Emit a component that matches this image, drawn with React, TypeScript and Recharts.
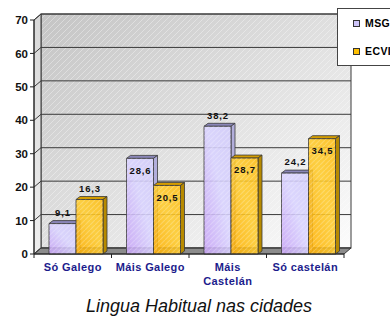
import { BarChart, Bar, XAxis, YAxis, CartesianGrid, Legend, LabelList } from "recharts"

const categories = ["Só Galego", "Máis Galego", "Máis\nCastelán", "Só castelán"]
const msgValues = [9.1, 28.6, 38.2, 24.2]
const ecviValues = [16.3, 20.5, 28.7, 34.5]
const yTicks = [0, 10, 20, 30, 40, 50, 60, 70]
const seriesNames = ["MSG", "ECVI"]
const title = "Lingua Habitual nas cidades"
// Excel put some of the value labels inside the top of the bar
const msgLabelInside = [false, true, false, false]
const ecviLabelInside = [false, true, true, true]

const data = categories.map((name, i) => ({ name, MSG: msgValues[i], ECVI: ecviValues[i] }))

const W = 390
const H = 316
const PLOT = { left: 34, top: 20, right: 344, bottom: 254 }
const WALL = { dx: 7, dy: 6 }
const BAR = { dx: 4, dy: 3, shift: 3 }
const FONT = "'Liberation Sans', Arial, sans-serif"
const swatch: Record<string, string> = { MSG: "#cdc4f8", ECVI: "#ffc000" }

function bar3d(front: string, top: string, side: string) {
  return (props: any) => {
    const { x, y, width, height } = props
    if (!width || height == null) return <g />
    const l = x + BAR.shift
    const r = l + width
    const b = y + height
    const { dx, dy } = BAR
    return (
      <g stroke="#3a3a3a" strokeWidth={0.8} strokeLinejoin="round">
        <polygon points={`${l},${y} ${l + dx},${y - dy} ${r + dx},${y - dy} ${r},${y}`} fill={top} />
        <polygon points={`${r},${y} ${r + dx},${y - dy} ${r + dx},${b - dy} ${r},${b}`} fill={side} />
        <rect x={l} y={y} width={width} height={height} fill={front} fillOpacity={0.88} />
        <rect x={l} y={y} width={width} height={height} fill="url(#barHatch)" stroke="none" />
      </g>
    )
  }
}

function valueLabel(inside: boolean[]) {
  return (props: any) => {
    const { x, y, width, value, index } = props
    const cx = x + BAR.shift + width / 2 + 0.5
    const cy = inside[index] ? y + 12 : y - 11
    return (
      <text x={cx} y={cy} dy="0.35em" textAnchor="middle" fontFamily={FONT} fontWeight="bold"
        fontSize={9.5} letterSpacing={0.9} fill="#111">
        {String(value).replace(".", ",")}
      </text>
    )
  }
}

function CategoryTick(props: any) {
  const { x, payload, index } = props
  const band = (PLOT.right - PLOT.left) / categories.length
  const lines = String(payload.value).split("\n")
  return (
    <g>
      <line x1={x - band / 2} x2={x - band / 2} y1={PLOT.bottom} y2={PLOT.bottom + 4} stroke="#222" />
      {index === categories.length - 1 && (
        <line x1={x + band / 2} x2={x + band / 2} y1={PLOT.bottom} y2={PLOT.bottom + 4} stroke="#222" />
      )}
      <text x={x} y={PLOT.bottom + 17} textAnchor="middle" fill="#1c1c8c" fontFamily={FONT}
        fontWeight="bold" fontSize={11} letterSpacing={0.4}>
        {lines.map((t, i) => (
          <tspan key={i} x={x} dy={i === 0 ? 0 : 14}>{t}</tspan>
        ))}
      </text>
    </g>
  )
}

function ValueTick(props: any) {
  const { x, y, payload } = props
  return (
    <text x={x} y={y} dy="0.36em" textAnchor="end" fill="#111" fontFamily={FONT} fontWeight="bold" fontSize={11.5}>
      {payload.value}
    </text>
  )
}

// gridline runs up the left wall then across the back wall
const gridLine = (p: any) => {
  const { x1, y1, x2 } = p
  return (
    <polyline key={`g${y1}`} fill="none" stroke="#3a3a3a" strokeWidth={1}
      points={`${x1},${y1} ${x1 + WALL.dx},${y1 - WALL.dy} ${x2 + WALL.dx},${y1 - WALL.dy}`} />
  )
}

function LegendBox(props: any) {
  const items = [...(props.payload ?? [])].sort(
    (a: any, b: any) => seriesNames.indexOf(a.value) - seriesNames.indexOf(b.value)
  )
  return (
    <div style={{ width: 70, height: 56, border: "1px solid #444", background: "#fff" }}>
      {items.map((it: any) => (
        <div key={it.value} style={{ height: 28, display: "flex", alignItems: "center", paddingLeft: 15 }}>
          <span style={{ width: 5, height: 5, border: "1px solid #333", background: swatch[it.value], marginRight: 5 }} />
          <span style={{ font: `bold 10.5px ${FONT}`, letterSpacing: 0.4, color: "#000" }}>{it.value}</span>
        </div>
      ))}
    </div>
  )
}

function Walls() {
  const bl = PLOT.left + WALL.dx
  const bt = PLOT.top - WALL.dy
  const br = PLOT.right + WALL.dx
  const bb = PLOT.bottom - WALL.dy
  return (
    <svg width={W} height={H} style={{ position: "absolute", left: 0, top: 0 }}>
      <defs>
        <linearGradient id="wallGrad" x1="0" y1="0" x2="1" y2="1">
          <stop offset="0" stopColor="#c4c4c4" />
          <stop offset="0.5" stopColor="#e0e0e0" />
          <stop offset="1" stopColor="#fcfcfc" />
        </linearGradient>
        <linearGradient id="leftGrad" x1="0" y1="0" x2="0" y2="1">
          <stop offset="0" stopColor="#d8d8d8" />
          <stop offset="1" stopColor="#eeeeee" />
        </linearGradient>
        <pattern id="wallHatch" width="6" height="6" patternUnits="userSpaceOnUse">
          <path d="M0,6 L6,0" stroke="#fff" strokeOpacity={0.35} strokeWidth={1} />
        </pattern>
        <pattern id="barHatch" width="5" height="5" patternUnits="userSpaceOnUse">
          <path d="M0,5 L5,0" stroke="#fff" strokeOpacity={0.22} strokeWidth={1.2} />
        </pattern>
        <linearGradient id="msgFront" x1="0" y1="1" x2="1" y2="0">
          <stop offset="0" stopColor="#c7a2f6" />
          <stop offset="0.55" stopColor="#d8d2ff" />
          <stop offset="1" stopColor="#d2ccfb" />
        </linearGradient>
        <linearGradient id="ecviFront" x1="0" y1="1" x2="1" y2="0">
          <stop offset="0" stopColor="#ffae00" />
          <stop offset="0.55" stopColor="#ffcb2a" />
          <stop offset="1" stopColor="#ffbe12" />
        </linearGradient>
      </defs>
      <rect x={bl} y={bt} width={br - bl} height={bb - bt} fill="url(#wallGrad)" />
      <rect x={bl} y={bt} width={br - bl} height={bb - bt} fill="url(#wallHatch)" stroke="#3a3a3a" />
      <polygon points={`${PLOT.left},${PLOT.top} ${bl},${bt} ${bl},${bb} ${PLOT.left},${PLOT.bottom}`}
        fill="url(#leftGrad)" stroke="#3a3a3a" />
      <polygon points={`${PLOT.left},${PLOT.bottom} ${bl},${bb} ${br},${bb} ${PLOT.right},${PLOT.bottom}`}
        fill="#8c8c8c" stroke="#3a3a3a" />
      <text x={199} y={312} textAnchor="middle" fontFamily={FONT} fontStyle="italic" fontSize={18} fill="#111">
        {title}
      </text>
    </svg>
  )
}

export default function App() {
  return (
    <div style={{ position: "absolute", left: 0, top: 0, width: W, height: H, overflow: "hidden", background: "#fff" }}>
      <Walls />
      <div style={{ position: "absolute", left: 0, top: 0 }}>
        <BarChart width={W} height={H} data={data} barGap={0}
          margin={{ top: PLOT.top, right: W - PLOT.right, bottom: 0, left: 0 }}>
          <CartesianGrid vertical={false} horizontal={gridLine} />
          <XAxis dataKey="name" height={H - PLOT.bottom} interval={0} tickLine={false}
            axisLine={{ stroke: "#222" }} tick={(p: any) => <CategoryTick {...p} />} />
          <YAxis width={PLOT.left} domain={[0, 70]} ticks={yTicks} tickSize={4} tickMargin={2}
            axisLine={{ stroke: "#222" }} tickLine={{ stroke: "#222" }}
            tick={(p: any) => <ValueTick {...p} />} />
          <Legend layout="vertical" align="center" verticalAlign="middle" content={(p: any) => <LegendBox {...p} />}
            wrapperStyle={{ left: 337, top: 8, width: 72, height: 58 }} />
          <Bar dataKey="MSG" name="MSG" barSize={27} isAnimationActive={false}
            shape={bar3d("url(#msgFront)", "#8a86b8", "#b2aedb")}>
            <LabelList dataKey="MSG" content={valueLabel(msgLabelInside)} />
          </Bar>
          <Bar dataKey="ECVI" name="ECVI" barSize={27} isAnimationActive={false}
            shape={bar3d("url(#ecviFront)", "#d39c00", "#b78a00")}>
            <LabelList dataKey="ECVI" content={valueLabel(ecviLabelInside)} />
          </Bar>
        </BarChart>
      </div>
    </div>
  )
}
